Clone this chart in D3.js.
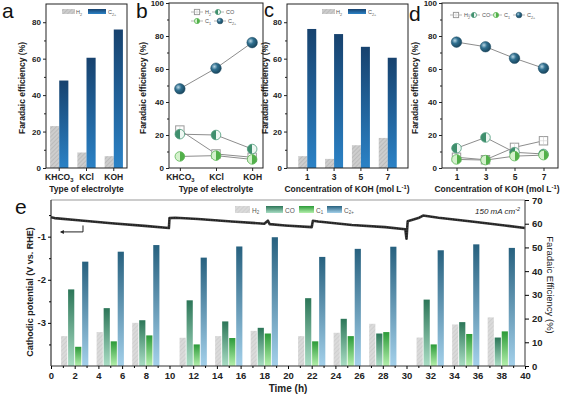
<!DOCTYPE html>
<html>
<head>
<meta charset="utf-8">
<script src="https://cdn.jsdelivr.net/npm/d3@7"></script>
<style>
  body { margin: 0; background: #fff; }
  svg { display: block; font-family: "Liberation Sans", Arial, sans-serif; }
</style>
</head>
<body>
<div id="chart"></div>
<script>
// ---- data ----
const electrolytes = ["KHCO3", "KCl", "KOH"];
const h2ByElectrolyte = [23, 8.5, 6.5];
const c2ByElectrolyte = [48, 60.5, 76];
const coByElectrolyte = [20.5, 20, 11.5];
const c1ByElectrolyte = [7, 7.5, 5.2];

const kohConc = ["1", "3", "5", "7"];
const h2ByConc = [6.5, 5, 12.5, 16.5];
const c2ByConc = [76.3, 73.5, 66.5, 60.5];
const coByConc = [12, 18.5, 9.5, 8.5];
const c1ByConc = [5.2, 4.8, 7.2, 7.8];

const groupTimes = [2, 5, 8, 12, 15, 18, 22, 25, 28, 32, 35, 38];
const h2Stab = [12.6, 14.3, 18.2, 11.9, 12.6, 14.8, 12.6, 14, 17.8, 12, 17.5, 20.5];
const coStab = [32.3, 24.4, 19.3, 27.7, 18.8, 16.1, 28.6, 19.9, 13.7, 28, 18.5, 12];
const c1Stab = [8.1, 10.4, 12.9, 9.1, 11.8, 13.7, 10.4, 12.6, 14.3, 9.1, 13.5, 14.6];
const c2Stab = [44, 48.2, 51, 45.7, 50.4, 54.3, 46, 49.4, 50.3, 48.8, 51.3, 49.8];

const potTime = [0, 0.3, 2.3, 5.1, 7.9, 9.95, 10.0, 10.5, 12.4, 15.25, 18.0, 18.3, 18.45, 19.75, 22.0,
                 22.1, 22.55, 25.4, 28.2, 29.9, 30.0, 30.1, 31.0, 31.4, 32.7, 35.5, 38.3, 40];
const potV = [-0.55, -0.57, -0.62, -0.69, -0.75, -0.80, -0.57, -0.56, -0.59, -0.65, -0.70, -0.63, -0.71, -0.74, -0.78,
              -0.63, -0.65, -0.73, -0.78, -0.83, -1.05, -0.64, -0.57, -0.51, -0.56, -0.65, -0.74, -0.80];

// ---- svg + defs ----
const svg = d3.select("#chart").append("svg").attr("width", 576).attr("height", 397);
const defs = svg.append("defs");

function vGrad(id, top, bottom) {
  const g = defs.append("linearGradient").attr("id", id)
    .attr("x1", 0).attr("y1", 0).attr("x2", 0).attr("y2", 1);
  g.append("stop").attr("offset", "0%").attr("stop-color", top);
  g.append("stop").attr("offset", "100%").attr("stop-color", bottom);
}
function hGradHalf(id, left, right) {
  const g = defs.append("linearGradient").attr("id", id)
    .attr("x1", 0).attr("y1", 0).attr("x2", 1).attr("y2", 0);
  g.append("stop").attr("offset", "50%").attr("stop-color", left);
  g.append("stop").attr("offset", "50%").attr("stop-color", right);
}
vGrad("gBlue", "#17426e", "#2b82c6");
vGrad("gC2", "#27617f", "#a3d0ea");
vGrad("gCO", "#2c7658", "#a9ddc4");
vGrad("gC1", "#2b9a38", "#b4f0ac");
hGradHalf("hCO", "#3f8f6d", "#eef7f2");
hGradHalf("hC1", "#d4f1cc", "#52b04a");
const rg = defs.append("radialGradient").attr("id", "sphere").attr("cx", "35%").attr("cy", "35%").attr("r", "65%");
rg.append("stop").attr("offset", "0%").attr("stop-color", "#b8d6e4");
rg.append("stop").attr("offset", "45%").attr("stop-color", "#2f6f8f");
rg.append("stop").attr("offset", "100%").attr("stop-color", "#1b4860");

const hatch = defs.append("pattern").attr("id", "hatch").attr("patternUnits", "userSpaceOnUse")
  .attr("width", 3).attr("height", 3).attr("patternTransform", "rotate(45)");
hatch.append("rect").attr("width", 3).attr("height", 3).attr("fill", "#cdcdcd");
hatch.append("line").attr("x1", 0).attr("y1", 0).attr("x2", 0).attr("y2", 3)
  .attr("stroke", "#a9a9a9").attr("stroke-width", 1);
const hatchLight = defs.append("pattern").attr("id", "hatchL").attr("patternUnits", "userSpaceOnUse")
  .attr("width", 3).attr("height", 3).attr("patternTransform", "rotate(45)");
hatchLight.append("rect").attr("width", 3).attr("height", 3).attr("fill", "#dadada");
hatchLight.append("line").attr("x1", 0).attr("y1", 0).attr("x2", 0).attr("y2", 3)
  .attr("stroke", "#c4c4c4").attr("stroke-width", 1);

// ---- helpers ----
function rich(sel, parts, fs) {
  // parts: [text, kind] where kind is null, "sub" or "sup"
  parts.forEach(([t, kind]) => {
    const sp = sel.append("tspan").text(t);
    if (kind === "sub") sp.attr("font-size", fs * 0.68).attr("dy", fs * 0.28);
    if (kind === "sup") sp.attr("font-size", fs * 0.68).attr("dy", -fs * 0.4);
    if (kind === "back-sub") sp.attr("dy", -fs * 0.28);
    if (kind === "back-sup") sp.attr("dy", fs * 0.4);
  });
}
function frame(x0, x1, y0, y1, color) {
  svg.append("rect").attr("x", x0).attr("y", y0).attr("width", x1 - x0).attr("height", y1 - y0)
    .attr("fill", "none").attr("stroke", color || "#222").attr("stroke-width", 1);
}
function yAxisLeft(y, x0, ticks, minors, fs) {
  const g = svg.append("g").attr("transform", `translate(${x0},0)`)
    .call(d3.axisLeft(y).tickValues(ticks).tickSize(3).tickPadding(2));
  g.select(".domain").remove();
  g.selectAll("text").attr("font-size", fs).attr("font-weight", "bold").attr("fill", "#222")
    .attr("font-family", "Liberation Sans, Arial, sans-serif");
  g.selectAll("line").attr("stroke", "#222");
  const m = svg.append("g").attr("transform", `translate(${x0},0)`)
    .call(d3.axisLeft(y).tickValues(minors).tickSize(2).tickFormat(""));
  m.select(".domain").remove();
  m.selectAll("line").attr("stroke", "#222");
  return g;
}
function xAxisBottom(x, y0, fs) {
  const g = svg.append("g").attr("transform", `translate(0,${y0})`)
    .call(d3.axisBottom(x).tickSize(3).tickPadding(3));
  g.select(".domain").remove();
  g.selectAll("text").attr("font-size", fs).attr("font-weight", "bold").attr("fill", "#222")
    .attr("font-family", "Liberation Sans, Arial, sans-serif");
  g.selectAll("line").attr("stroke", "#222");
  g.selectAll("text").filter(d => d === "KHCO3").text("")
    .call(t => rich(t, [["KHCO", null], ["3", "sub"]], fs));
  return g;
}
function yTitle(x, y, text) {
  svg.append("text").attr("transform", `translate(${x},${y}) rotate(-90)`)
    .attr("text-anchor", "middle").attr("font-size", 8.5).attr("font-weight", "bold").attr("fill", "#222")
    .text(text);
}
function letter(x, y, t, fs) {
  svg.append("text").attr("x", x).attr("y", y).attr("font-size", fs || 21).attr("fill", "#111").text(t);
}
function concTitle(cx) {
  const t = svg.append("text").attr("x", cx).attr("y", 192).attr("text-anchor", "middle")
    .attr("font-size", 8.5).attr("font-weight", "bold").attr("fill", "#222");
  rich(t, [["Concentration of KOH (mol L", null], ["-1", "sup"], [")", "back-sup"]], 8.5);
}
function barLegend(x, y) {
  const g = svg.append("g").attr("font-size", 5.5).attr("fill", "#555");
  g.append("rect").attr("x", x).attr("y", y).attr("width", 13).attr("height", 5).attr("fill", "url(#hatch)");
  rich(g.append("text").attr("x", x + 14).attr("y", y + 5), [["H", null], ["2", "sub"]], 5.5);
  g.append("rect").attr("x", x + 26).attr("y", y).attr("width", 18).attr("height", 5).attr("fill", "url(#gBlue)");
  rich(g.append("text").attr("x", x + 46).attr("y", y + 5), [["C", null], ["2+", "sub"]], 5.5);
}
function drawMarker(g, kind, cx, cy, r) {
  if (kind === "H2") {
    g.append("rect").attr("x", cx - r).attr("y", cy - r).attr("width", 2 * r).attr("height", 2 * r)
      .attr("fill", "#fff").attr("stroke", "#9a9a9a").attr("stroke-width", 1);
    g.append("path").attr("d", `M${cx - r},${cy}H${cx + r}M${cx},${cy - r}V${cy + r}`)
      .attr("stroke", "#cfcfcf").attr("stroke-width", 0.6);
  } else if (kind === "CO") {
    g.append("circle").attr("cx", cx).attr("cy", cy).attr("r", r)
      .attr("fill", "url(#hCO)").attr("stroke", "#4c9a7a").attr("stroke-width", 0.8);
  } else if (kind === "C1") {
    g.append("circle").attr("cx", cx).attr("cy", cy).attr("r", r)
      .attr("fill", "url(#hC1)").attr("stroke", "#5cb655").attr("stroke-width", 0.8);
  } else {
    g.append("circle").attr("cx", cx).attr("cy", cy).attr("r", r * 1.1)
      .attr("fill", "url(#sphere)").attr("stroke", "#1d4a62").attr("stroke-width", 0.5);
  }
}
function lineLegendItem(g, kind, x, y, parts) {
  g.append("line").attr("x1", x - 6).attr("x2", x + 6).attr("y1", y).attr("y2", y)
    .attr("stroke", "#999").attr("stroke-width", 0.7);
  drawMarker(g, kind, x, y, 2.6);
  rich(g.append("text").attr("x", x + 8).attr("y", y + 2), parts, 5.5);
}
function linePanel(x, y, seriesList) {
  const line = d3.line().x(d => d[0]).y(d => d[1]);
  seriesList.forEach(s => {
    const pts = s.vals.map((v, i) => [x(s.cats[i]), y(v)]);
    svg.append("path").attr("d", line(pts)).attr("fill", "none")
      .attr("stroke", "#8d8d8d").attr("stroke-width", 1);
  });
  seriesList.forEach(s => {
    const g = svg.append("g");
    s.vals.forEach((v, i) => drawMarker(g, s.kind, x(s.cats[i]), y(v), s.kind === "H2" ? 4.2 : 4.8));
  });
}

// ---- panel a ----
const xa = d3.scaleBand().domain(electrolytes).range([46, 127]).paddingInner(0.33).paddingOuter(0.15);
const ya = d3.scaleLinear().domain([0, 90]).range([168, 4]);
const sub2 = d3.scaleBand().domain(["H2", "C2"]).range([0, xa.bandwidth()]);
electrolytes.forEach((c, i) => {
  svg.append("rect").attr("x", xa(c) + sub2("H2")).attr("y", ya(h2ByElectrolyte[i]))
    .attr("width", sub2.bandwidth()).attr("height", ya(0) - ya(h2ByElectrolyte[i])).attr("fill", "url(#hatch)");
  svg.append("rect").attr("x", xa(c) + sub2("C2")).attr("y", ya(c2ByElectrolyte[i]))
    .attr("width", sub2.bandwidth()).attr("height", ya(0) - ya(c2ByElectrolyte[i])).attr("fill", "url(#gBlue)");
});
frame(46, 127, 4, 168);
yAxisLeft(ya, 46, [0, 20, 40, 60, 80], [10, 30, 50, 70], 8);
xAxisBottom(xa, 168, 8.5);
yTitle(25, 88, "Faradaic efficiency (%)");
svg.append("text").attr("x", 86.5).attr("y", 192).attr("text-anchor", "middle").attr("font-size", 8.5)
  .attr("font-weight", "bold").attr("fill", "#222").text("Type of electrolyte");
barLegend(62, 9);
letter(2, 18, "a");

// ---- panel b ----
const xb = d3.scalePoint().domain(electrolytes).range([169, 263]).padding(0.3);
const yb = d3.scaleLinear().domain([0, 100]).range([168, 3]);
frame(169, 263, 3, 168);
linePanel(xb, yb, [
  { kind: "H2", cats: electrolytes, vals: h2ByElectrolyte },
  { kind: "CO", cats: electrolytes, vals: coByElectrolyte },
  { kind: "C1", cats: electrolytes, vals: c1ByElectrolyte },
  { kind: "C2", cats: electrolytes, vals: c2ByElectrolyte }
]);
yAxisLeft(yb, 169, [0, 20, 40, 60, 80, 100], [10, 30, 50, 70, 90], 8);
xAxisBottom(xb, 168, 8.5);
yTitle(146, 88, "Faradaic efficiency (%)");
svg.append("text").attr("x", 216).attr("y", 192).attr("text-anchor", "middle").attr("font-size", 8.5)
  .attr("font-weight", "bold").attr("fill", "#222").text("Type of electrolyte");
{
  const lg = svg.append("g").attr("font-size", 5.5).attr("fill", "#555");
  lineLegendItem(lg, "H2", 197, 12, [["H", null], ["2", "sub"]]);
  lineLegendItem(lg, "CO", 218, 12, [["CO", null]]);
  lineLegendItem(lg, "C1", 197, 21, [["C", null], ["1", "sub"]]);
  lineLegendItem(lg, "C2", 220, 21, [["C", null], ["2+", "sub"]]);
}
letter(136, 18, "b");

// ---- panel c ----
const xc = d3.scaleBand().domain(kohConc).range([287, 408]).paddingInner(0.33).paddingOuter(0.42);
const yc = d3.scaleLinear().domain([0, 90]).range([168, 4]);
const sub2c = d3.scaleBand().domain(["H2", "C2"]).range([0, xc.bandwidth()]);
kohConc.forEach((c, i) => {
  svg.append("rect").attr("x", xc(c) + sub2c("H2")).attr("y", yc(h2ByConc[i]))
    .attr("width", sub2c.bandwidth()).attr("height", yc(0) - yc(h2ByConc[i])).attr("fill", "url(#hatch)");
  svg.append("rect").attr("x", xc(c) + sub2c("C2")).attr("y", yc(c2ByConc[i]))
    .attr("width", sub2c.bandwidth()).attr("height", yc(0) - yc(c2ByConc[i])).attr("fill", "url(#gBlue)");
});
frame(287, 408, 4, 168);
yAxisLeft(yc, 287, [0, 20, 40, 60, 80], [10, 30, 50, 70], 8);
xAxisBottom(xc, 168, 8.5);
yTitle(268, 88, "Faradaic efficiency (%)");
concTitle(347);
barLegend(322, 9);
letter(264, 17, "c", 20);

// ---- panel d ----
const xd = d3.scalePoint().domain(kohConc).range([442, 558]).padding(0.5);
const yd = d3.scaleLinear().domain([0, 100]).range([168, 3]);
frame(442, 558, 3, 168);
linePanel(xd, yd, [
  { kind: "H2", cats: kohConc, vals: h2ByConc },
  { kind: "CO", cats: kohConc, vals: coByConc },
  { kind: "C1", cats: kohConc, vals: c1ByConc },
  { kind: "C2", cats: kohConc, vals: c2ByConc }
]);
yAxisLeft(yd, 442, [0, 20, 40, 60, 80, 100], [10, 30, 50, 70, 90], 8);
xAxisBottom(xd, 168, 8.5);
yTitle(418, 88, "Faradaic efficiency (%)");
concTitle(497);
{
  const lg = svg.append("g").attr("font-size", 5.5).attr("fill", "#555");
  lineLegendItem(lg, "H2", 456, 15, [["H", null], ["2", "sub"]]);
  lineLegendItem(lg, "CO", 474, 15, [["CO", null]]);
  lineLegendItem(lg, "C1", 496, 15, [["C", null], ["1", "sub"]]);
  lineLegendItem(lg, "C2", 519, 15, [["C", null], ["2+", "sub"]]);
}
letter(409, 21, "d");

// ---- panel e ----
const xe = d3.scaleLinear().domain([0, 40]).range([51, 525]);
const yeL = d3.scaleLinear().domain([-4, -0.15]).range([366, 200]);
const yeR = d3.scaleLinear().domain([0, 70]).range([366, 200]);
const stabSeries = [
  { key: "H2", vals: h2Stab, fill: "url(#hatchL)" },
  { key: "CO", vals: coStab, fill: "url(#gCO)" },
  { key: "C1", vals: c1Stab, fill: "url(#gC1)" },
  { key: "C2", vals: c2Stab, fill: "url(#gC2)" }
];
const offs = d3.scaleBand().domain(stabSeries.map(s => s.key)).range([-1.15, 1.15]).paddingInner(0.12);
const bw = xe(offs.bandwidth()) - xe(0);
stabSeries.forEach(s => {
  svg.append("g").selectAll("rect").data(s.vals).join("rect")
    .attr("x", (v, i) => xe(groupTimes[i] + offs(s.key)))
    .attr("y", v => yeR(v))
    .attr("width", bw)
    .attr("height", v => yeR(0) - yeR(v))
    .attr("fill", s.fill);
});

// potential trace
const potLine = d3.line().x(d => xe(d[0])).y(d => yeL(d[1]));
const potPts = potTime.map((t, i) => [t, potV[i]]);
svg.append("path").attr("d", potLine(potPts)).attr("fill", "none")
  .attr("stroke", "#3a3a3a").attr("stroke-width", 2.6).attr("stroke-linejoin", "round");
svg.append("path").attr("d", potLine(potPts)).attr("fill", "none")
  .attr("stroke", "#1c1c1c").attr("stroke-width", 1.2).attr("stroke-dasharray", "1.5,1");

// arrow to the left axis
svg.append("path")
  .attr("d", `M${xe(2.7)},${yeL(-0.74)}V${yeL(-0.89)}H${xe(0.85)}`)
  .attr("fill", "none").attr("stroke", "#222").attr("stroke-width", 1);
svg.append("path")
  .attr("d", `M${xe(0.75)},${yeL(-0.89)}l4,-2v4z`).attr("fill", "#222");

// frame of e
svg.append("line").attr("x1", 51).attr("x2", 525).attr("y1", 200).attr("y2", 200)
  .attr("stroke", "#9a9a9a").attr("stroke-width", 1.2);
svg.append("line").attr("x1", 51).attr("x2", 51).attr("y1", 200).attr("y2", 366)
  .attr("stroke", "#333").attr("stroke-width", 1.2);
svg.append("line").attr("x1", 525).attr("x2", 525).attr("y1", 200).attr("y2", 366)
  .attr("stroke", "#555").attr("stroke-width", 1.2);
svg.append("line").attr("x1", 51).attr("x2", 525).attr("y1", 366).attr("y2", 366)
  .attr("stroke", "#333").attr("stroke-width", 1.2);

{
  const gl = svg.append("g").attr("transform", "translate(51,0)")
    .call(d3.axisLeft(yeL).tickValues([-3, -2, -1]).tickSize(3).tickPadding(2).tickFormat(d3.format("d")));
  gl.select(".domain").remove();
  gl.selectAll("text").attr("font-size", 9.5).attr("font-weight", "bold").attr("fill", "#222")
    .text(d => "-" + Math.abs(d));
  const gm = svg.append("g").attr("transform", "translate(51,0)")
    .call(d3.axisLeft(yeL).tickValues([-3.5, -2.5, -1.5, -0.5]).tickSize(2).tickFormat(""));
  gm.select(".domain").remove();

  const gr = svg.append("g").attr("transform", "translate(525,0)")
    .call(d3.axisRight(yeR).tickValues(d3.range(0, 71, 10)).tickSize(4).tickPadding(3));
  gr.select(".domain").remove();
  gr.selectAll("text").attr("font-size", 9.5).attr("font-weight", "bold").attr("fill", "#222");

  const gb = svg.append("g").attr("transform", "translate(0,366)")
    .call(d3.axisBottom(xe).tickValues(d3.range(0, 41, 2)).tickSize(3).tickPadding(3));
  gb.select(".domain").remove();
  gb.selectAll("text").attr("font-size", 9.5).attr("font-weight", "bold").attr("fill", "#222");
  const gbm = svg.append("g").attr("transform", "translate(0,366)")
    .call(d3.axisBottom(xe).tickValues(d3.range(1, 40, 2)).tickSize(2).tickFormat(""));
  gbm.select(".domain").remove();
}
svg.append("text").attr("x", 288).attr("y", 392).attr("text-anchor", "middle")
  .attr("font-size", 10).attr("font-weight", "bold").attr("fill", "#222").text("Time (h)");
svg.append("text").attr("transform", "translate(33,292) rotate(-90)").attr("text-anchor", "middle")
  .attr("font-size", 9).attr("font-weight", "bold").attr("fill", "#222").text("Cathodic potential (V vs. RHE)");
svg.append("text").attr("transform", "translate(547,285) rotate(90)").attr("text-anchor", "middle")
  .attr("font-size", 9.5).attr("fill", "#222").text("Faradaic Efficiency (%)");
svg.append("text").attr("x", 520).attr("y", 214).attr("text-anchor", "end").attr("font-size", 8)
  .attr("font-style", "italic").attr("fill", "#222")
  .call(t => rich(t, [["150 mA cm", null], ["-2", "sup"]], 8));
{
  const lg = svg.append("g").attr("font-size", 6.5).attr("fill", "#555");
  const items = [
    { x: 235, w: 15, fill: "url(#hatchL)", parts: [["H", null], ["2", "sub"]] },
    { x: 266, w: 17, fill: "url(#gCO)", parts: [["CO", null]] },
    { x: 299, w: 15, fill: "url(#gC1)", parts: [["C", null], ["1", "sub"]] },
    { x: 327, w: 15, fill: "url(#gC2)", parts: [["C", null], ["2+", "sub"]] }
  ];
  items.forEach(it => {
    lg.append("rect").attr("x", it.x).attr("y", 206).attr("width", it.w).attr("height", 7).attr("fill", it.fill);
    rich(lg.append("text").attr("x", it.x + it.w + 2).attr("y", 212.5), it.parts, 6.5);
  });
}
letter(15, 214, "e");
</script>
</body>
</html>
